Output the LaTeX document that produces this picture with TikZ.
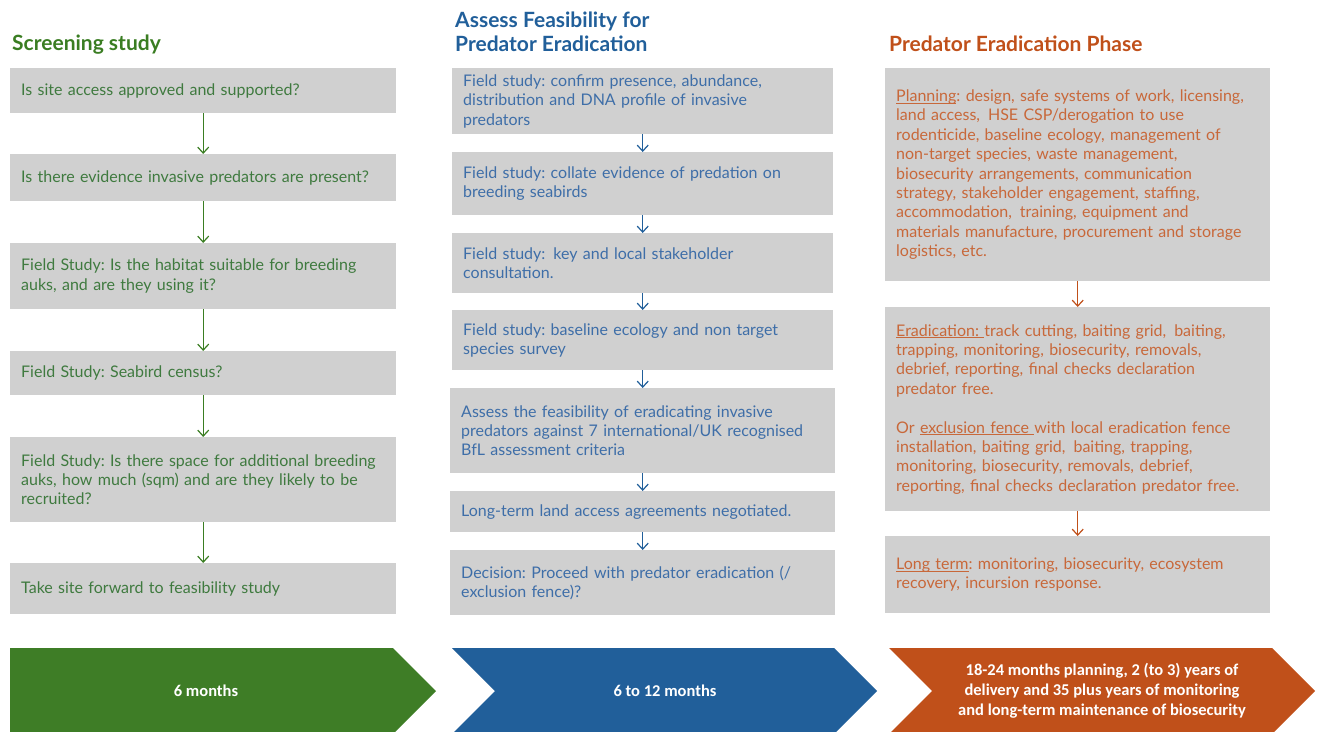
\documentclass[tikz,border=0pt]{standalone}
\usepackage{fontspec}
\setmainfont{Lato}
\newfontfamily\chevfont{Carlito}
\usetikzlibrary{arrows.meta}
\frenchspacing
\newcommand\undl[1]{\underline{\smash{#1}}}
\definecolor{gtitle}{HTML}{3A7D22}
\definecolor{gtext}{HTML}{3F7A3F}
\definecolor{btitle}{HTML}{215F9A}
\definecolor{btext}{HTML}{3E6EA8}
\definecolor{otitle}{HTML}{C0501A}
\definecolor{otext}{HTML}{C8683A}
\definecolor{boxgray}{HTML}{D0D0D0}
\definecolor{chgreen}{HTML}{3E7D26}
\definecolor{chblue}{HTML}{215F9A}
\definecolor{chorange}{HTML}{C0501A}
\tikzset{
  stagebox/.style={fill=boxgray, anchor=north west, inner xsep=11pt, inner ysep=0pt,
    align=left, font=\frenchspacing\fontsize{16}{19.4}\selectfont},
  coltitle/.style={anchor=west, align=left, inner sep=0pt, font=\fontsize{21}{24}\selectfont\bfseries},
  flowarrow/.style={-{Straight Barb[length=6pt,width=11pt]}, line width=1.2pt},
  chevtext/.style={text=white, align=center, font=\chevfont\fontsize{16.5}{20}\selectfont\bfseries}
}
\begin{document}
\begin{tikzpicture}[x=1pt,y=-1pt]
\useasboundingbox (0,0) rectangle (1320,731);
% titles
\node[coltitle, text=gtitle] (t1) at (12,45) {Screening study};
\node[coltitle, text=btitle] (t2) at (455,32) {Assess Feasibility for\\Predator Eradication};
\node[coltitle, text=otitle] (t3) at (889,44) {Predator Eradication Phase};
% column 1
\begin{scope}[every node/.style={stagebox, text=gtext, text width=364pt}]
\node[minimum height=45pt] (a1) at (10,68) {Is site access approved and supported?};
\node[minimum height=47pt] (a2) at (10,154) {Is there evidence invasive predators are present?};
\node[minimum height=66pt] (a3) at (10,243) {Field Study: Is the habitat suitable for breeding\\auks, and are they using it?};
\node[minimum height=44pt] (a4) at (10,351) {Field Study: Seabird census?};
\node[minimum height=85pt] (a5) at (10,437) {Field Study: Is there space for additional breeding\\auks, how much (sqm) and are they likely to be\\recruited?};
\node[minimum height=51pt] (a6) at (10,563) {Take site forward to feasibility study};
\end{scope}
\foreach \i/\j in {a1/a2,a2/a3,a3/a4,a4/a5,a5/a6}
  \draw[flowarrow, gtitle] (\i.south) -- (\j.north);
% column 2
\begin{scope}[every node/.style={stagebox, text=btext, text width=359pt}]
\node[minimum height=66pt] (b1) at (452,68) {Field study: confirm presence, abundance,\\distribution and DNA profile of invasive\\predators};
\node[minimum height=63pt] (b2) at (452,152) {Field study: collate evidence of predation on\\breeding seabirds};
\node[minimum height=60pt] (b3) at (452,233) {Field study: \,key and local stakeholder\\consultation.};
\node[minimum height=60pt] (b4) at (452,310) {Field study: baseline ecology and non target\\species survey};
\node[minimum height=85pt, text width=363pt] (b5) at (450,388) {Assess the feasibility of eradicating invasive\\predators against 7 international/UK recognised\\BfL assessment criteria};
\node[minimum height=41pt, text width=363pt] (b6) at (450,491) {Long-term land access agreements negotiated.};
\node[minimum height=65pt, text width=363pt] (b7) at (450,550) {Decision: Proceed with predator eradication (/\\exclusion fence)?};
\end{scope}
\foreach \i/\j in {b1/b2,b2/b3,b3/b4,b4/b5,b5/b6,b6/b7}
  \draw[flowarrow, btitle] (\i.south) -- (\j.north);
% column 3
\begin{scope}[every node/.style={stagebox, text=otext, text width=363pt}]
\node[minimum height=213pt] (c1) at (885,68) {\undl{Planning}: design, safe systems of work, licensing,\\land access, \,HSE CSP/derogation to use\\rodenticide, baseline ecology, management of\\non-target species, waste management,\\biosecurity arrangements, communication\\strategy, stakeholder engagement, staffing,\\accommodation, \,training, equipment and\\materials manufacture, procurement and storage\\logistics, etc.};
\node[minimum height=204pt] (c2) at (885,307) {\undl{Eradication:\ }track cutting, baiting grid, \,baiting,\\trapping, monitoring, biosecurity, removals,\\debrief, reporting, final checks declaration\\predator free.\\[19.4pt]Or \undl{exclusion fence\ }with local eradication fence\\installation, baiting grid, \,baiting, trapping,\\monitoring, biosecurity, removals, debrief,\\reporting, final checks declaration predator free.};
\node[minimum height=77pt] (c3) at (885,536) {\undl{Long term}: monitoring, biosecurity, ecosystem\\recovery, incursion response.};
\end{scope}
\foreach \i/\j in {c1/c2,c2/c3}
  \draw[flowarrow, otitle] (\i.south) -- (\j.north);
% chevrons
\fill[chgreen] (10,648) -- (393,648) -- (436,691) -- (393,734) -- (10,734) -- cycle;
\fill[chblue] (452,648) -- (834,648) -- (877,691) -- (834,734) -- (452,734) -- (495,691) -- cycle;
\fill[chorange] (889,648) -- (1272,648) -- (1315,691) -- (1272,734) -- (889,734) -- (932,691) -- cycle;
\node[chevtext] (d1) at (206,691) {6 months};
\node[chevtext] (d2) at (665,691) {6 to 12 months};
\node[chevtext] (d3) at (1102,691) {18-24 months planning, 2 (to 3) years of\\delivery and 35 plus years of monitoring\\and long-term maintenance of biosecurity};
\end{tikzpicture}
\end{document}
